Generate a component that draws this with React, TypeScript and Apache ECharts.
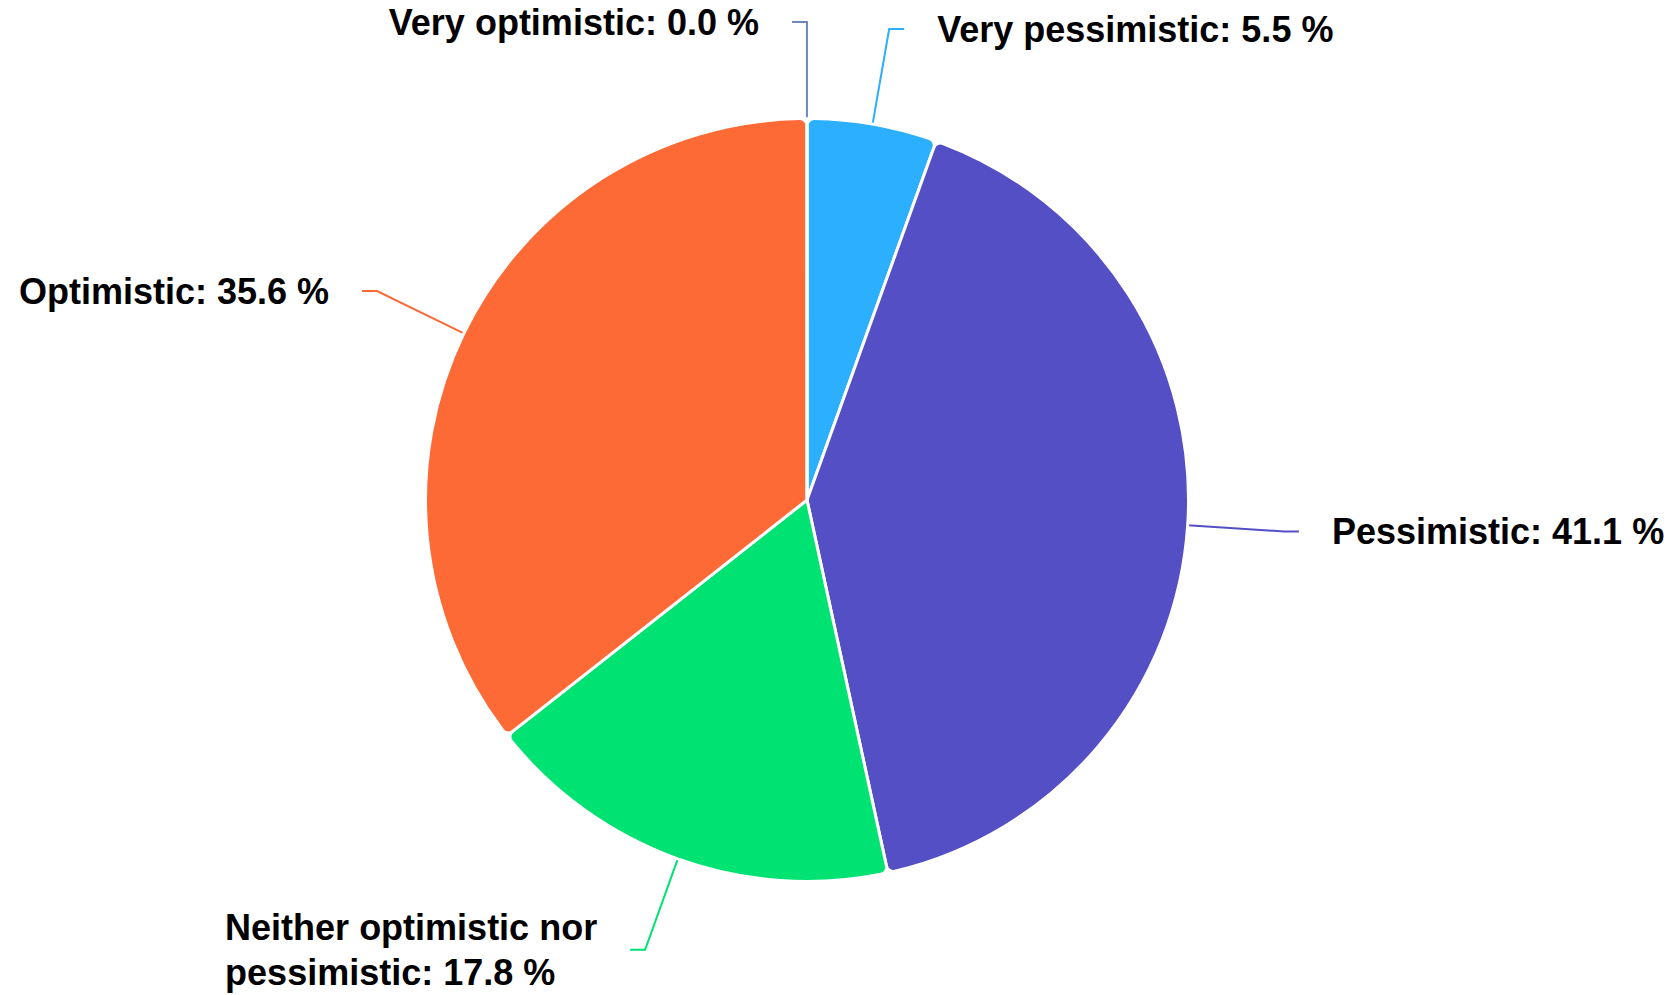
import React, { useEffect, useRef } from "react";
import * as echarts from "echarts";

// Survey answers, listed clockwise from 12 o'clock
const categories = [
  "Very pessimistic",
  "Pessimistic",
  "Neither optimistic nor pessimistic",
  "Optimistic",
  "Very optimistic",
];
const shares = [5.5, 41.1, 17.8, 35.6, 0.0];
const palette = ["#2caffe", "#544fc5", "#00e272", "#fe6a35", "#6b8abc"];

const FONT = '"Liberation Sans", Arial, Helvetica, sans-serif';

// Greedy word wrap for long labels
function wrapWords(text: string, maxChars: number): string[] {
  const words = text.split(" ");
  const lines: string[] = [];
  let cur = "";
  for (const w of words) {
    if (cur && (cur + " " + w).length > maxChars) {
      lines.push(cur);
      cur = w;
    } else {
      cur = cur ? cur + " " + w : w;
    }
  }
  if (cur) lines.push(cur);
  return lines;
}

export default function App() {
  const ref = useRef<HTMLDivElement>(null);

  useEffect(() => {
    if (!ref.current) return;
    const chart = echarts.init(ref.current, undefined, { renderer: "svg" });

    const data = categories.map((name, i) => ({
      name,
      value: shares[i],
      itemStyle: { color: palette[i] },
    }));

    chart.setOption({
      animation: false,
      backgroundColor: "#ffffff",
      series: [
        {
          type: "pie",
          center: [807, 500],
          radius: 381.5,
          startAngle: 90,
          clockwise: true,
          // keeps the empty answer as a hairline sector so its label is laid out
          minAngle: 0.01,
          avoidLabelOverlap: false,
          minShowLabelAngle: 0,
          stillShowZeroSum: true,
          itemStyle: {
            borderColor: "#ffffff",
            borderWidth: 3,
            borderRadius: 7,
          },
          label: {
            show: true,
            position: "outside",
            distanceToLabelLine: 33,
            formatter: (p: any) =>
              wrapWords(`${p.name}: ${Number(p.value).toFixed(1)} %`, 24)
                .map((l) => `{t|${l}}`)
                .join("\n"),
            rich: {
              t: {
                fontFamily: FONT,
                fontWeight: "bold",
                fontSize: 36,
                lineHeight: 45,
                color: "#000000",
                align: "left",
              },
            },
          },
          labelLine: {
            show: true,
            length: 96.5,
            length2: 15,
            smooth: false,
            lineStyle: { width: 2 },
          },
          emphasis: { disabled: true },
          data,
        },
      ],
    });

    return () => chart.dispose();
  }, []);

  return (
    <div
      ref={ref}
      style={{ position: "absolute", left: 0, top: 0, width: 1677, height: 995 }}
    />
  );
}
